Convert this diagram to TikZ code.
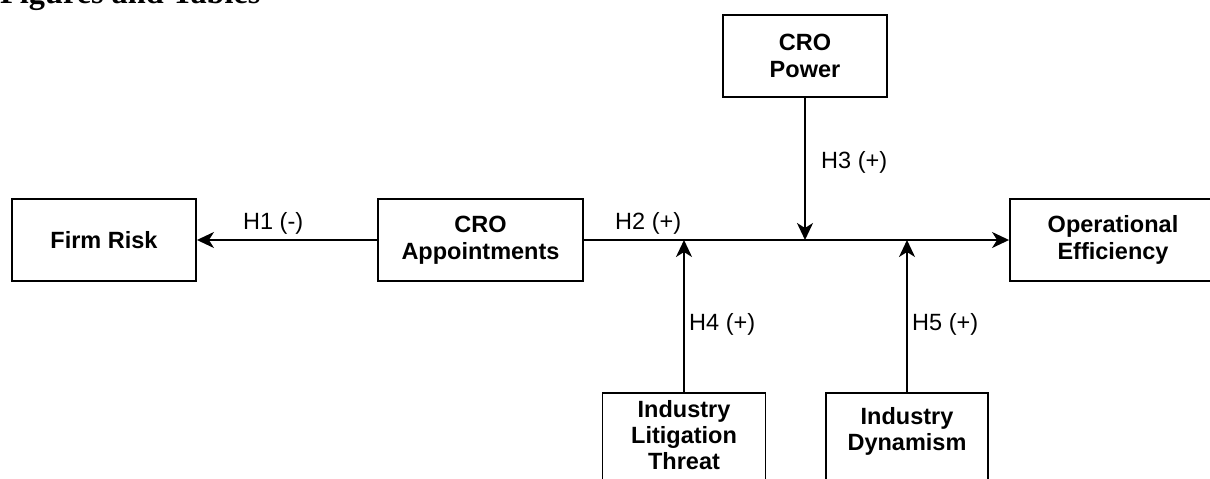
\documentclass[tikz,border=0pt]{standalone}
\usepackage{fontspec}
\setmainfont{Liberation Sans}
\newfontfamily\titlefont{Liberation Serif}
\usetikzlibrary{arrows.meta}
\begin{document}
\begin{tikzpicture}[x=1pt,y=-1pt,
  box/.style={draw=black, line width=1.9pt, fill=white, font=\bfseries\fontsize{23.5}{26.5}\selectfont, align=center, inner sep=0pt},
  boxtext/.style={font=\bfseries\fontsize{23.5}{26}\selectfont, align=center, inner sep=0pt},
  hyp/.style={font=\fontsize{23.5}{26.5}\selectfont, inner sep=0pt, anchor=base west},
  conn/.style={line width=1.9pt, -{Stealth[length=17pt,width=16pt,inset=5pt]}},
  headtext/.style={font=\titlefont\bfseries\fontsize{32.3}{32.3}\selectfont, anchor=base west, inner sep=0pt}]
\useasboundingbox (0,0) rectangle (1210,479);
\clip (0,0) rectangle (1210,479);

\node[headtext] (title) at (0,3.5) {Figures and Tables};

\node[box, minimum width=184, minimum height=82] (risk) at (104,240) {Firm Risk};
\node[box, minimum width=205, minimum height=82] (appt) at (480.5,240) {CRO\\Appointments};
\node[box, minimum width=164, minimum height=82] (power) at (805,56) {CRO\\Power};
\node[box, minimum width=206, minimum height=82] (eff) at (1113,240) {Operational\\Efficiency};
\node[box, minimum width=163, minimum height=130, anchor=north] (lit) at (684,392) {};
\node[boxtext] (littxt) at (684,435) {Industry\\Litigation\\Threat};
\node[box, minimum width=162, minimum height=130, anchor=north] (dyn) at (907,392) {};
\node[boxtext] (dyntxt) at (907,431.5) {Industry\\Dynamism};

\draw[conn] (appt.west) -- (risk.east);
\draw[conn] (appt.east) -- (eff.west);
\draw[conn] (power.south) -- (power.south |- appt.east);
\draw[conn] (lit.north) -- (lit.north |- appt.east);
\draw[conn] (dyn.north) -- (dyn.north |- appt.east);

\node[hyp] (h1) at (243,229) {H1 (-)};
\node[hyp] (h2) at (615,229) {H2 (+)};
\node[hyp] (h3) at (821,168) {H3 (+)};
\node[hyp] (h4) at (689,330) {H4 (+)};
\node[hyp] (h5) at (912,330) {H5 (+)};
\end{tikzpicture}
\end{document}
